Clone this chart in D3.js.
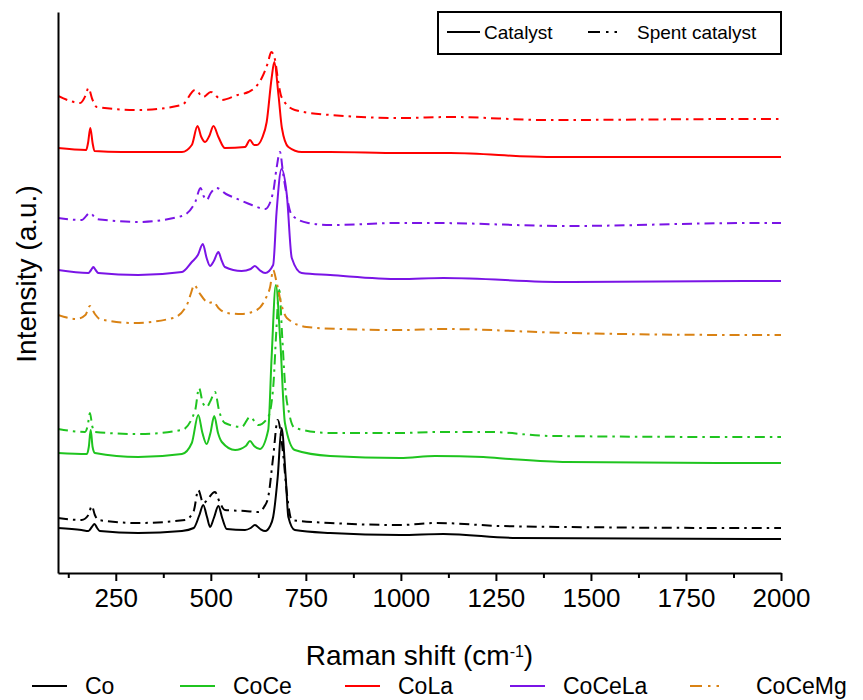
<!DOCTYPE html>
<html>
<head>
<meta charset="utf-8">
<script src="https://cdn.jsdelivr.net/npm/d3@7"></script>
<style>
  body { margin: 0; background: #fff; }
  text { font-family: Arial, "Liberation Sans", sans-serif; fill: #000; }
</style>
</head>
<body>
<svg id="chart"></svg>
<script>
// Raman shift (cm-1) vs intensity (a.u.)
let xTicks = [250, 500, 750, 1000, 1250, 1500, 1750, 2000];
let xMinorTicks = [125, 375, 625, 875, 1125, 1375, 1625, 1875];

let coCatalyst = [[98,45],[160,43],[178,42],[187,46],[194,49],[201,45],[208,42],[309,40],[424,42],[455,45],[470,58],[480,68],[490,56],[498,46],[508,55],[520,67],[530,55],[542,44],[590,43],[605,45],[616,48],[630,44],[643,42],[656,47],[664,56],[676,96],[686,145],[697,96],[704,56],[721,43],[814,40],[998,38],[1112,39],[1305,35],[1919,34],[2000,34]];
let coSpent = [[98,55],[160,53],[178,58],[187,67],[195,58],[204,53],[309,50],[432,53],[455,62],[467,83],[480,70],[511,81],[522,72],[537,63],[590,62],[625,61],[640,66],[651,76],[664,116],[676,153],[690,120],[700,80],[713,53],[814,50],[998,48],[1094,50],[1261,47],[1437,46],[1919,45],[2000,45]];

let coCeCatalyst = [[98,120],[174,119],[179,126],[184,143],[189,126],[195,120],[309,116],[424,119],[450,130],[467,158],[478,140],[489,129],[499,140],[509,157],[519,140],[529,131],[564,123],[592,127],[603,132],[614,127],[629,124],[651,143],[660,216],[671,288],[683,230],[695,150],[721,123],[814,117],[998,115],[1090,117],[1217,116],[1287,114],[1437,111],[1919,110],[2000,110]];
let coCeSpent = [[98,144],[169,141],[176,147],[182,160],[188,147],[195,141],[309,139],[424,143],[459,163],[469,185],[479,170],[489,166],[499,172],[511,181],[522,162],[537,150],[581,146],[603,156],[625,148],[651,156],[665,190],[672,240],[680,283],[688,235],[695,190],[707,158],[721,145],[814,140],[998,140],[1094,141],[1235,141],[1393,137],[1919,136],[2000,136]];

let coCeMgSpent = [[98,258],[147,254],[170,258],[182,267],[195,259],[208,254],[296,250],[401,255],[437,268],[448,280],[456,288],[470,280],[486,272],[493,270],[507,271],[520,265],[542,260],[580,259],[621,263],[645,275],[656,286],[664,303],[673,291],[686,268],[700,255],[752,246],[840,244],[998,243],[1112,244],[1437,240],[1919,238],[2000,238]];

let coCeLaCatalyst = [[98,303],[178,300],[185,303],[191,306],[197,303],[204,300],[309,298],[424,301],[450,311],[466,318],[479,329],[489,315],[498,307],[508,312],[520,321],[528,313],[537,306],[581,302],[605,304],[616,307],[628,303],[643,300],[664,308],[673,361],[686,404],[700,378],[713,315],[739,300],[814,298],[998,294],[1112,295],[1437,291],[1919,292],[2000,292]];
let coCeLaSpent = [[98,355],[160,353],[182,360],[200,354],[222,353],[309,351],[424,357],[459,371],[473,385],[481,377],[489,373],[500,380],[515,385],[540,379],[564,375],[608,368],[643,364],[664,381],[673,405],[682,421],[690,400],[695,388],[713,358],[756,350],[814,348],[998,350],[1086,350],[1437,347],[1919,350],[2000,350]];

let coLaCatalyst = [[98,425],[172,423],[177,430],[183,445],[189,430],[194,422],[266,421],[424,421],[450,428],[465,447],[475,436],[485,431],[496,437],[507,447],[520,436],[537,425],[590,426],[603,433],[614,428],[621,428],[635,435],[647,451],[660,495],[667,511],[678,478],[687,445],[704,426],[739,421],[814,421],[998,420],[1130,420],[1384,416],[1919,416],[2000,416]];
let coLaSpent = [[98,477],[130,472],[156,470],[171,478],[178,485],[188,474],[200,466],[309,463],[424,468],[459,483],[480,476],[500,481],[529,473],[570,478],[599,481],[618,486],[634,495],[650,510],[659,521],[669,513],[678,490],[686,476],[721,463],[814,458],[998,455],[1130,456],[1384,453],[1919,454],[2000,454]];

let samples = ['Co', 'CoCe', 'CoLa', 'CoCeLa', 'CoCeMg'];
let colors = ['#000000', '#1fc41f', '#ff0000', '#7a14e6', '#d98214'];

let curves = [
  { data: coCatalyst, color: colors[0], spent: false },
  { data: coSpent, color: colors[0], spent: true },
  { data: coCeCatalyst, color: colors[1], spent: false },
  { data: coCeSpent, color: colors[1], spent: true },
  { data: coCeMgSpent, color: colors[4], spent: true },
  { data: coCeLaCatalyst, color: colors[3], spent: false },
  { data: coCeLaSpent, color: colors[3], spent: true },
  { data: coLaCatalyst, color: colors[2], spent: false },
  { data: coLaSpent, color: colors[2], spent: true }
];

let width = 863, height = 700;
let margin = { left: 58, right: 82, top: 12, bottom: 127 };
let dashDot = '10,5,2.5,5';

let svg = d3.select('#chart')
            .attr('width', width)
            .attr('height', height);

let x = d3.scaleLinear()
          .domain([98, 2000])
          .range([margin.left, width - margin.right]);

let y = d3.scaleLinear()
          .domain([0, 561])
          .range([height - margin.bottom, margin.top]);

svg.append('clipPath').attr('id', 'plot')
   .append('rect')
   .attr('x', margin.left).attr('y', margin.top)
   .attr('width', width - margin.left - margin.right)
   .attr('height', height - margin.top - margin.bottom);

let line = d3.line()
             .x(d => x(d[0]))
             .y(d => y(d[1]))
             .curve(d3.curveMonotoneX);

svg.append('g')
   .attr('clip-path', 'url(#plot)')
   .selectAll('path')
   .data(curves)
   .enter()
   .append('path')
   .attr('d', d => line(d.data))
   .attr('fill', 'none')
   .attr('stroke', d => d.color)
   .attr('stroke-width', 2)
   .attr('stroke-linejoin', 'round')
   .attr('stroke-dasharray', d => d.spent ? dashDot : null);

// axes
let xAxis = svg.append('g')
   .attr('transform', 'translate(0,' + (height - margin.bottom) + ')')
   .call(d3.axisBottom(x).tickValues(xTicks).tickFormat(d3.format('d'))
           .tickSize(8).tickSizeOuter(0).tickPadding(8));
xAxis.select('.domain').attr('stroke-width', 2);
xAxis.selectAll('.tick line').attr('stroke-width', 2);
xAxis.selectAll('.tick text').attr('font-size', 26).style('font-family', 'Arial, "Liberation Sans", sans-serif');

let xMinor = svg.append('g')
   .attr('transform', 'translate(0,' + (height - margin.bottom) + ')')
   .call(d3.axisBottom(x).tickValues(xMinorTicks).tickSize(5).tickSizeOuter(0).tickFormat(''));
xMinor.select('.domain').remove();
xMinor.selectAll('.tick line').attr('stroke-width', 2);

let yAxis = svg.append('g')
   .attr('transform', 'translate(' + margin.left + ',0)')
   .call(d3.axisLeft(y).tickValues([]).tickSizeOuter(0));
yAxis.select('.domain').attr('stroke-width', 2);

let xTitle = svg.append('text')
   .attr('x', (margin.left + width - margin.right) / 2)
   .attr('y', 665)
   .attr('text-anchor', 'middle')
   .attr('font-size', 28);
xTitle.append('tspan').text('Raman shift (cm');
xTitle.append('tspan').attr('baseline-shift', 'super').attr('font-size', 16).text('-1');
xTitle.append('tspan').text(')');

svg.append('text')
   .attr('transform', 'translate(36,274) rotate(-90)')
   .attr('text-anchor', 'middle')
   .attr('font-size', 28)
   .text('Intensity (a.u.)');

// legend: line style
let styleLegend = svg.append('g');
styleLegend.append('rect')
   .attr('x', 438).attr('y', 12).attr('width', 343).attr('height', 42)
   .attr('fill', '#fff').attr('stroke', '#000').attr('stroke-width', 2);
let styles = [
  { label: 'Catalyst', x: 447, dash: null },
  { label: 'Spent catalyst', x: 588, dash: '12,6,2.5,6,2.5,30' }
];
styles.forEach(s => {
  styleLegend.append('line')
     .attr('x1', s.x).attr('x2', s.x + 33).attr('y1', 32).attr('y2', 32)
     .attr('stroke', '#000').attr('stroke-width', 2)
     .attr('stroke-dasharray', s.dash);
  styleLegend.append('text')
     .attr('x', s.x + (s.dash ? 49 : 37)).attr('y', 39)
     .attr('font-size', 19)
     .text(s.label);
});

// legend: samples
let sampleX = [32, 180, 345, 510, 690];
let sampleLegend = svg.append('g')
   .selectAll('g')
   .data(samples)
   .enter()
   .append('g')
   .attr('transform', (d, i) => 'translate(' + sampleX[i] + ',686)');
sampleLegend.append('line')
   .attr('x1', 0).attr('x2', 35)
   .attr('stroke', (d, i) => colors[i])
   .attr('stroke-width', 2)
   .attr('stroke-dasharray', d => d === 'CoCeMg' ? '12,6,2.5,6,2.5,30' : null);
sampleLegend.append('text')
   .attr('x', (d, i) => i === 4 ? 66 : 53)
   .attr('y', 8)
   .attr('font-size', 23)
   .text(d => d);
</script>
</body>
</html>
